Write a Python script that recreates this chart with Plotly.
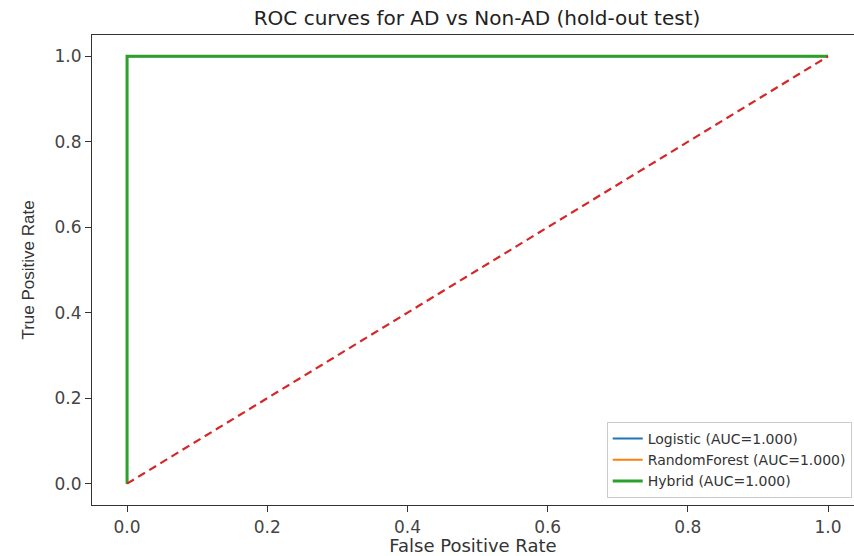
import plotly.graph_objects as go

fpr_logistic = [0.0, 0.0, 1.0]
tpr_logistic = [0.0, 1.0, 1.0]
fpr_rf = [0.0, 0.0, 1.0]
tpr_rf = [0.0, 1.0, 1.0]
fpr_hybrid = [0.0, 0.0, 1.0]
tpr_hybrid = [0.0, 1.0, 1.0]
chance_x = [0.0, 1.0]
chance_y = [0.0, 1.0]
names = ["Logistic (AUC=1.000)", "RandomForest (AUC=1.000)", "Hybrid (AUC=1.000)"]
ticks = [0.0, 0.2, 0.4, 0.6, 0.8, 1.0]
tick_text = ["0.0", "0.2", "0.4", "0.6", "0.8", "1.0"]

fig = go.Figure()
fig.add_trace(go.Scatter(x=fpr_logistic, y=tpr_logistic, mode="lines", name=names[0],
                         line=dict(color="#1f77b4", width=2)))
fig.add_trace(go.Scatter(x=fpr_rf, y=tpr_rf, mode="lines", name=names[1],
                         line=dict(color="#ff7f0e", width=2)))
fig.add_trace(go.Scatter(x=fpr_hybrid, y=tpr_hybrid, mode="lines", name=names[2],
                         line=dict(color="#2ca02c", width=3)))
fig.add_trace(go.Scatter(x=chance_x, y=chance_y, mode="lines", showlegend=False,
                         line=dict(color="#d62728", width=2.2, dash="8px,5px")))

font = "DejaVu Sans"
fig.update_layout(
    width=854, height=556,
    margin=dict(l=92, r=0, t=35, b=51),
    paper_bgcolor="white", plot_bgcolor="white",
    font=dict(family=font, color="#333333"),
    title=dict(text="ROC curves for AD vs Non-AD (hold-out test)", x=477/854, xanchor="center",
               y=1 - 18/556, yanchor="middle", font=dict(size=20, color="#222222")),
    showlegend=True,
    legend=dict(x=0.997, y=0.015, xanchor="right", yanchor="bottom",
                bordercolor="#cccccc", borderwidth=1, bgcolor="rgba(255,255,255,0.9)",
                font=dict(size=14, color="#333333"), tracegroupgap=0,
                itemwidth=30),
)
fig.update_xaxes(range=[-0.05, 1.037], tickvals=ticks, ticktext=tick_text,
                 showgrid=False, zeroline=False, showline=True, linecolor="#333333",
                 linewidth=1.2, mirror=True, ticks="outside", ticklen=6, tickcolor="#333333",
                 tickfont=dict(size=17, color="#444444"),
                 title=dict(text="False Positive Rate", font=dict(size=18, color="#333333"), standoff=1))
fig.update_yaxes(range=[-0.05, 1.05], tickvals=ticks, ticktext=tick_text,
                 showgrid=False, zeroline=False, showline=True, linecolor="#333333",
                 linewidth=1.2, mirror=False, ticks="outside", ticklen=6, tickcolor="#333333",
                 tickfont=dict(size=17, color="#444444"),
                 title=dict(text="True Positive Rate", font=dict(size=17, family="Liberation Sans", color="#333333"), standoff=15))

fig.write_html("out.html")
